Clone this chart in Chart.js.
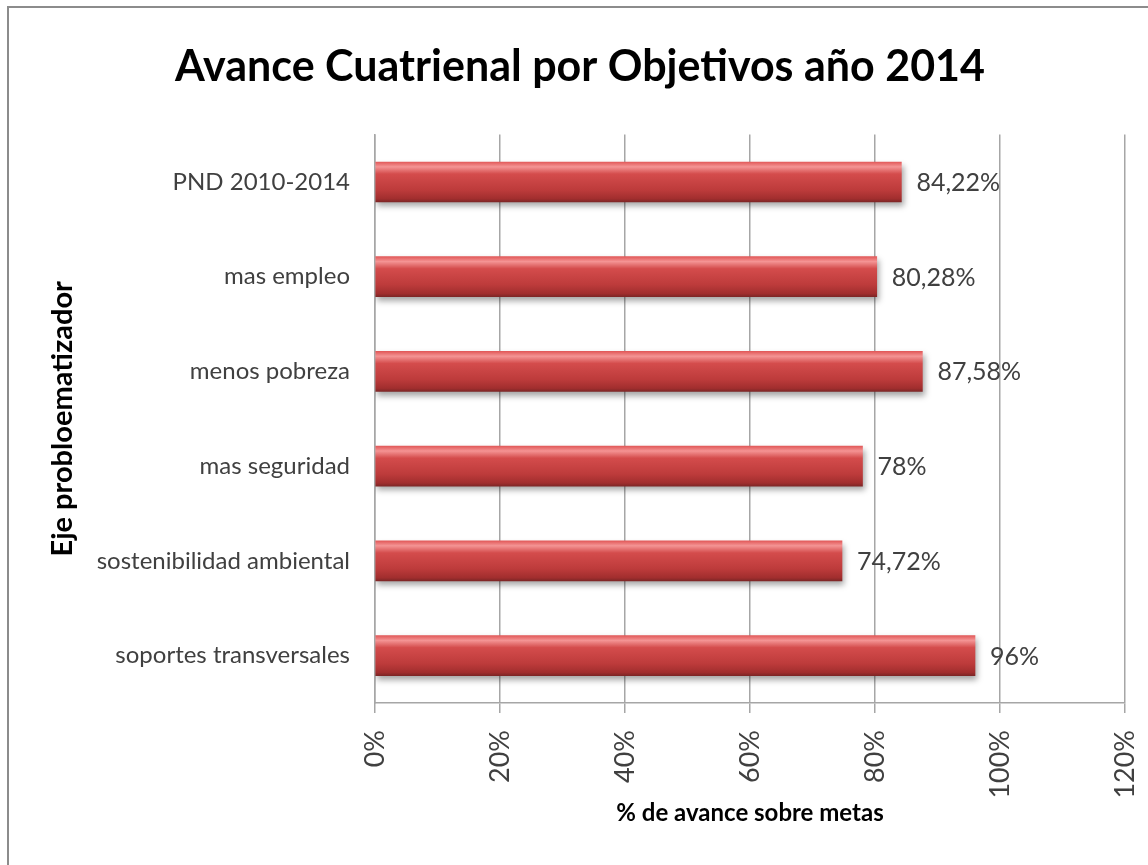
<!DOCTYPE html>
<html>
<head>
<meta charset="utf-8">
<script src="https://cdn.jsdelivr.net/npm/chart.js@4.4.1/dist/chart.umd.min.js"></script>
<style>
  html, body { margin: 0; padding: 0; background: #fff; }
  #wrap { width: 1148px; height: 865px; }
</style>
</head>
<body>
<div id="wrap"><canvas id="avanceChart" width="1148" height="865"></canvas></div>
<script>
// Datos
const categories = ['PND 2010-2014', 'mas empleo', 'menos pobreza', 'mas seguridad', 'sostenibilidad ambiental', 'soportes transversales'];
const values = [84.22, 80.28, 87.58, 78, 74.72, 96];
const valueLabels = ['84,22%', '80,28%', '87,58%', '78%', '74,72%', '96%'];
const xTicks = [0, 20, 40, 60, 80, 100, 120];

const font = "Lato, 'Liberation Sans', sans-serif";

// Degradado vertical de cada barra, calculado desde la escala y
function barGradient(ctx) {
  const chart = ctx.chart;
  const y = chart.scales.y;
  if (!y || ctx.dataIndex === undefined) return '#c94040';
  const c = y.getPixelForValue(ctx.dataIndex);
  if (!isFinite(c)) return '#c94040';
  const h = 40;
  const g = chart.ctx.createLinearGradient(0, c - h / 2, 0, c + h / 2);
  g.addColorStop(0, '#e25a5a');
  g.addColorStop(0.12, '#f49494');
  g.addColorStop(0.3, '#d44c4c');
  g.addColorStop(0.7, '#bd3b3b');
  g.addColorStop(0.92, '#a12e2e');
  g.addColorStop(1, '#7e2626');
  return g;
}

// Marco gris
const framePlugin = {
  id: 'frame',
  afterDraw(chart) {
    const c = chart.ctx;
    c.save();
    c.strokeStyle = '#8c8c8c';
    c.lineWidth = 2;
    c.strokeRect(8, 7, 1200, 900);
    c.restore();
  }
};

// Sombra de las barras
const shadowPlugin = {
  id: 'barShadow',
  beforeDatasetDraw(chart) {
    const c = chart.ctx;
    c.save();
    c.shadowColor = 'rgba(0,0,0,0.35)';
    c.shadowBlur = 6;
    c.shadowOffsetX = 2;
    c.shadowOffsetY = 4;
  },
  afterDatasetDraw(chart) {
    chart.ctx.restore();
  }
};

// Etiquetas de valor al final de cada barra
const valuePlugin = {
  id: 'valueLabels',
  afterDatasetsDraw(chart) {
    const c = chart.ctx;
    const meta = chart.getDatasetMeta(0);
    c.save();
    c.font = '25px ' + font;
    c.fillStyle = '#404040';
    c.textAlign = 'left';
    c.textBaseline = 'middle';
    meta.data.forEach((bar, i) => {
      c.fillText(valueLabels[i], bar.x + 15, bar.y + 1);
    });
    c.restore();
  }
};

new Chart(document.getElementById('avanceChart'), {
  type: 'bar',
  data: {
    labels: categories,
    datasets: [{
      data: values,
      backgroundColor: barGradient,
      borderWidth: 0,
      barThickness: 40
    }]
  },
  options: {
    indexAxis: 'y',
    responsive: false,
    animation: false,
    layout: { padding: { left: 12, right: 0, top: 0, bottom: 0 } },
    plugins: {
      legend: { display: false },
      tooltip: { enabled: false },
      title: {
        display: true,
        text: 'Avance Cuatrienal por Objetivos año 2014',
        color: '#000',
        font: { family: font, size: 43, weight: 'bold', lineHeight: 1.2 },
        padding: { top: 41, bottom: 42 }
      }
    },
    scales: {
      x: {
        min: 0,
        max: 120,
        afterBuildTicks(scale) {
          scale.ticks = xTicks.map(v => ({ value: v }));
        },
        afterFit(scale) {
          scale.height = 162;
          scale.paddingLeft = 0;
          scale.paddingRight = 23;
        },
        grid: { color: '#a6a6a6', lineWidth: 1.5, tickLength: 10 },
        border: { color: '#a6a6a6', width: 1.5 },
        ticks: {
          minRotation: 90,
          maxRotation: 90,
          padding: 17,
          color: '#404040',
          font: { family: font, size: 27 },
          callback: v => v + '%'
        },
        title: {
          display: true,
          text: '% de avance sobre metas',
          color: '#000',
          font: { family: font, size: 24, weight: 'bold', lineHeight: 1.2 },
          padding: { top: 4, bottom: 37 }
        }
      },
      y: {
        afterFit(scale) {
          scale.width = 363;
          scale.paddingTop = 0;
          scale.paddingBottom = 0;
        },
        grid: { display: false, drawTicks: false },
        border: { display: true, color: '#a6a6a6', width: 1.5 },
        ticks: {
          padding: 25,
          color: '#404040',
          font: { family: font, size: 24 }
        },
        title: {
          display: true,
          text: 'Eje probloematizador',
          color: '#000',
          font: { family: font, size: 29, weight: 'bold', lineHeight: 1.2 },
          padding: { top: 33, bottom: 0 }
        }
      }
    }
  },
  plugins: [shadowPlugin, valuePlugin, framePlugin]
});
</script>
</body>
</html>
